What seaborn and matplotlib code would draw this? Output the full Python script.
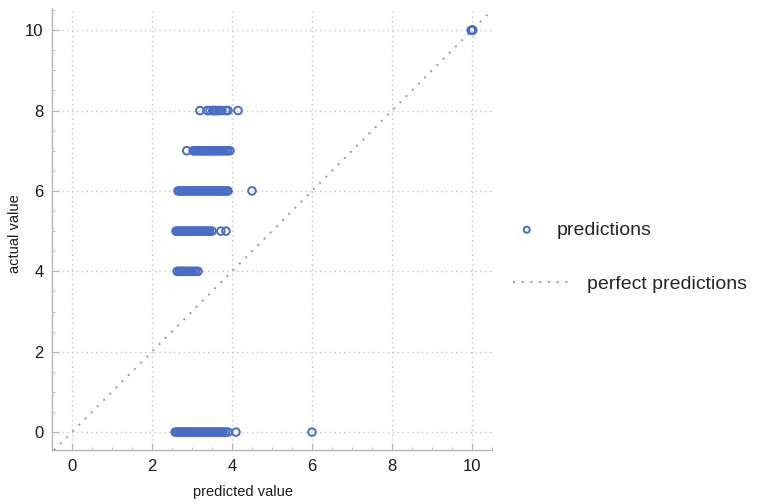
import matplotlib
matplotlib.use("Agg")
import matplotlib.pyplot as plt
import seaborn as sns
import pandas as pd
from matplotlib.ticker import MultipleLocator

# predicted values for each actual value
pred_at_0 = [2.58, 2.62, 2.66, 2.7, 2.74, 2.78, 2.82, 2.86, 2.9, 2.94, 2.98, 3.02, 3.06,
             3.1, 3.14, 3.18, 3.22, 3.26, 3.3, 3.34, 3.38, 3.42, 3.46, 3.5, 3.54, 3.58,
             3.62, 3.66, 3.7, 3.74, 3.78, 3.84, 3.9, 4.1, 6.0]
pred_at_4 = [2.63, 2.68, 2.72, 2.76, 2.8, 2.85, 2.9, 2.95, 3.0, 3.05, 3.1, 3.15]
pred_at_5 = [2.6, 2.64, 2.68, 2.72, 2.76, 2.8, 2.84, 2.88, 2.92, 2.96, 3.0, 3.04, 3.08,
             3.12, 3.16, 3.2, 3.24, 3.28, 3.32, 3.36, 3.4, 3.44, 3.5, 3.72, 3.85]
pred_at_6 = [2.65, 2.69, 2.73, 2.77, 2.81, 2.85, 2.89, 2.93, 2.97, 3.01, 3.05, 3.09, 3.13,
             3.17, 3.21, 3.25, 3.29, 3.33, 3.37, 3.41, 3.45, 3.49, 3.53, 3.57, 3.61, 3.65,
             3.69, 3.73, 3.77, 3.81, 3.86, 3.9, 4.5]
pred_at_7 = [2.87, 3.03, 3.07, 3.11, 3.15, 3.19, 3.23, 3.27, 3.31, 3.35, 3.39, 3.43, 3.47,
             3.51, 3.55, 3.59, 3.63, 3.67, 3.71, 3.75, 3.8, 3.85, 3.9, 3.95]
pred_at_8 = [3.2, 3.38, 3.45, 3.52, 3.55, 3.58, 3.62, 3.68, 3.75, 3.85, 3.9, 4.15]
pred_at_10 = [9.98, 10.0, 10.02]

groups = {0: pred_at_0, 4: pred_at_4, 5: pred_at_5, 6: pred_at_6,
          7: pred_at_7, 8: pred_at_8, 10: pred_at_10}
rows = [(p, a) for a, preds in groups.items() for p in preds]
df = pd.DataFrame(rows, columns=["predicted", "actual"])

sns.set_theme(style="white")
plt.rcParams['font.family'] = ['Liberation Sans', 'DejaVu Sans']

fig = plt.figure(figsize=(7.64, 5.03), dpi=100)
ax = fig.add_axes([0.068, 0.105, 0.576, 0.879])

blue = "#4a6cc9"
sns.scatterplot(data=df, x="predicted", y="actual", ax=ax, marker="o",
                facecolor="none", edgecolor=blue, linewidth=1.4, s=30,
                label="predictions", zorder=3, legend=False)
ax.axline((0, 0), slope=1, color="#9a9a9a", linestyle=(0, (1, 3.5)), linewidth=1.4,
          label="perfect predictions", zorder=2)

ax.set_xlim(-0.5, 10.5)
ax.set_ylim(-0.45, 10.55)
ax.xaxis.set_major_locator(MultipleLocator(2))
ax.yaxis.set_major_locator(MultipleLocator(2))
ax.xaxis.set_minor_locator(MultipleLocator(0.5))
ax.yaxis.set_minor_locator(MultipleLocator(0.5))
ax.grid(True, which="major", color="#c4c4c4", linestyle=(0, (1, 2.5)), linewidth=1.0)

for side in ["top", "right"]:
    ax.spines[side].set_visible(False)
for side in ["left", "bottom"]:
    ax.spines[side].set_color("#b5b5b5")
    ax.spines[side].set_linewidth(1.0)
ax.tick_params(which="major", direction="in", length=5, width=0.8, color="#b5b5b5",
               labelsize=12, labelcolor="#1a1a1a", pad=6,
               bottom=True, left=True)
ax.tick_params(which="minor", direction="in", length=2.5, width=0.6, color="#b5b5b5",
               bottom=True, left=True)

ax.set_xlabel("predicted value", fontsize=10.5, color="#1a1a1a")
ax.set_ylabel("actual value", fontsize=10.5, color="#1a1a1a")
ax.xaxis.set_label_coords(0.434, -0.078)
ax.yaxis.set_label_coords(-0.068, 0.49)

# two separate legend entries, each with its own handle width
handles, labels = ax.get_legend_handles_labels()
h = dict(zip(labels, handles))
fig.legend([h["predictions"]], ["predictions"], loc="center left",
           bbox_to_anchor=(517 / 764, 1 - 230 / 503), frameon=False,
           fontsize=14, handlelength=1.0, handletextpad=1.06,
           borderpad=0, borderaxespad=0, markerscale=0.8)
fig.legend([h["perfect predictions"]], ["perfect predictions"], loc="center left",
           bbox_to_anchor=(513 / 764, 1 - 284 / 503), frameon=False,
           fontsize=14, handlelength=2.94, handletextpad=0.88,
           borderpad=0, borderaxespad=0)

fig.savefig("out.png", dpi=100)
